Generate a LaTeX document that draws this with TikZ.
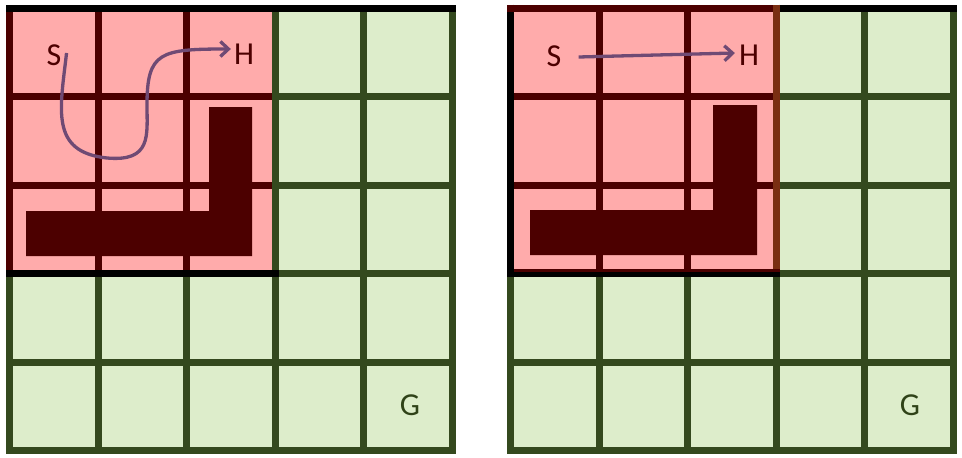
\documentclass[tikz,border=0pt]{standalone}
\usepackage{fontspec}
\setmainfont{Carlito}
\usetikzlibrary{arrows.meta}
\definecolor{pinkfill}{HTML}{FFABAB}
\definecolor{greenfill}{HTML}{DDEDCB}
\definecolor{greenline}{HTML}{34491E}
\definecolor{redline}{HTML}{4C0000}
\definecolor{obst}{HTML}{4C0000}
\definecolor{pathcol}{HTML}{6F4A74}
\definecolor{brownline}{HTML}{7A2E12}
\definecolor{gtext}{HTML}{2F4218}
\tikzset{
  gline/.style={draw=greenline, line width=7pt, line cap=rect},
  rline/.style={draw=redline, line width=7pt},
  bline/.style={draw=black, line width=7pt},
  obstacle/.style={fill=obst},
  lbl/.style={inner sep=0pt, font=\fontsize{32}{38}\selectfont},
  route/.style={draw=pathcol, line width=3.3pt, -{Straight Barb[length=8pt,width=15pt]}},
}
\begin{document}
\begin{tikzpicture}[x=1pt,y=-1pt]
\useasboundingbox (0,0) rectangle (962,458);
\fill[white] (0,0) rectangle (962,458);
\foreach \ox in {9.5,510.5}{
  \fill[greenfill] (\ox,8) rectangle ++(442.5,442.5);
  \fill[pinkfill] (\ox,8) rectangle ++(265.5,265.5);
  \foreach \i in {0,...,5}{
    \draw[gline] ({\ox+88.5*\i},8) -- ({\ox+88.5*\i},450.5);
    \draw[gline] (\ox,{8+88.5*\i}) -- ({\ox+442.5},{8+88.5*\i});
  }
  \foreach \i in {1,2}{
    \draw[rline] ({\ox+88.5*\i},8) -- ({\ox+88.5*\i},273.5);
    \draw[rline] ({\ox-3.5},{8+88.5*\i}) -- ({\ox+262},{8+88.5*\i});
  }
}
% left grid edges
\draw[rline] (9.5,8) -- (9.5,273.5);
\draw[bline] (6,8) -- (455.5,8);
\draw[bline] (6,273.5) -- (278.5,273.5);
% right grid edges
\draw[bline] (510.5,4.5) -- (510.5,277);
\draw[bline] (779.5,8) -- (956.5,8);
\draw[rline] (507,8) -- (779.5,8);
\draw[draw=brownline, line width=7pt] (776,4.5) -- (776,270);
\draw[bline] (507,273.5) -- (779.5,273.5);
\draw[draw=redline, line width=3pt] (514,270.5) -- (779.5,270.5);
% obstacles
\fill[obstacle] (26,211) -- (209,211) -- (209,107) -- (252,107) -- (252,256) -- (26,256) -- cycle;
\fill[obstacle] (530,210) -- (713,210) -- (713,105) -- (757,105) -- (757,255) -- (530,255) -- cycle;
% labels
\node[lbl, text=redline] (S1) at (54,55) {S};
\node[lbl, text=redline] (H1) at (244,54) {H};
\node[lbl, text=gtext] (G1) at (410,405) {G};
\node[lbl, text=redline] (S2) at (554,56) {S};
\node[lbl, text=redline] (H2) at (749,55) {H};
\node[lbl, text=gtext] (G2) at (910,405) {G};
% routes
\draw[route] ([xshift=5pt,yshift=2pt]S1.east) .. controls (60,110) and (50,152) .. (107,158)
  .. controls (152,162) and (147,135) .. (147,105)
  .. controls (147,52) and (160,49) .. ([xshift=-3pt,yshift=5pt]H1.west);
\draw[route] ([xshift=17pt,yshift=-1pt]S2.east) -- ([xshift=-4pt,yshift=2pt]H2.west);
\end{tikzpicture}
\end{document}
